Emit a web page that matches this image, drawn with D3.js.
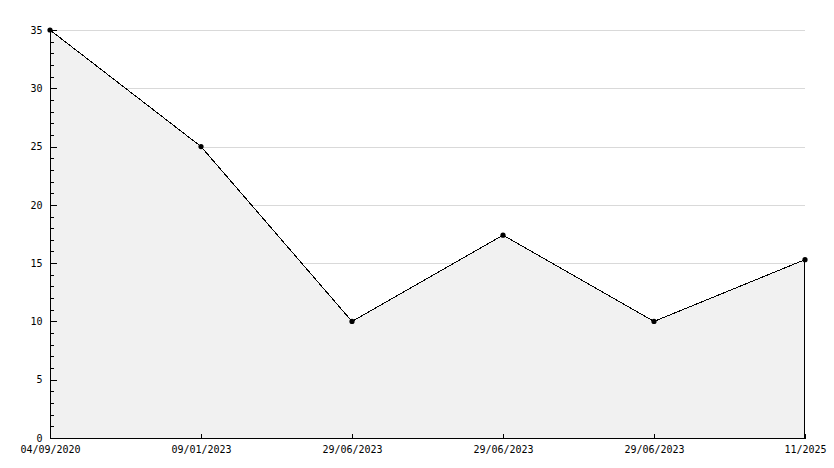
<!DOCTYPE html>
<html><head><meta charset="utf-8">
<script src="https://cdn.jsdelivr.net/npm/d3@7"></script>
<style>
body{margin:0;background:#fff;}
svg text{font-family:"DejaVu Sans Mono",monospace;font-size:10px;fill:#000;}
</style></head>
<body><svg id="c" width="834" height="468"></svg>
<script>
const categories = ["04/09/2020","09/01/2023","29/06/2023","29/06/2023","29/06/2023","11/2025"];
const values = [35, 25, 10, 17.4, 10, 15.3];
const yTicks = [0,5,10,15,20,25,30,35];

const svg = d3.select("#c");
const W = 834, H = 468;
const m = {l:50, r:29, t:30, b:30};
const x = d3.scalePoint().domain(d3.range(categories.length)).range([m.l, W - m.r]);
const y = d3.scaleLinear().domain([0,35]).range([H - m.b, m.t]);
const data = values.map((v,i)=>({i,v}));

// grid
svg.append("g").selectAll("line").data(yTicks.filter(d=>d>0)).join("line")
  .attr("x1", m.l).attr("x2", W - m.r)
  .attr("y1", d=>Math.round(y(d))+0.5).attr("y2", d=>Math.round(y(d))+0.5)
  .attr("stroke","#d9d9d9").attr("shape-rendering","crispEdges");

// area
svg.append("path").datum(data)
  .attr("d", d3.area().x(d=>x(d.i)).y0(y(0)).y1(d=>y(d.v)))
  .attr("fill","#f1f1f1");

// line
svg.append("path").datum(data)
  .attr("d", d3.line().x(d=>x(d.i)).y(d=>y(d.v)))
  .attr("fill","none").attr("stroke","#000").attr("stroke-width",1).attr("shape-rendering","crispEdges");

// right edge
const last = data[data.length-1];
svg.append("line").attr("x1", Math.round(x(last.i))-0.5).attr("x2", Math.round(x(last.i))-0.5)
  .attr("y1", y(last.v)).attr("y2", y(0)).attr("stroke","#000").attr("shape-rendering","crispEdges");

// y axis minor ticks
const minor = d3.range(0,36).filter(d=>d%5!==0);
svg.append("g").selectAll("line").data(minor).join("line")
  .attr("x1", m.l).attr("x2", m.l+4)
  .attr("y1", d=>Math.round(y(d))+0.5).attr("y2", d=>Math.round(y(d))+0.5)
  .attr("stroke","#000").attr("shape-rendering","crispEdges");

const yAxis = svg.append("g").attr("transform",`translate(${m.l+0.5},0)`)
  .call(d3.axisRight(y).tickValues(yTicks).tickSize(6).tickFormat(d3.format("d")));
yAxis.select(".domain").remove();
yAxis.selectAll("line").attr("shape-rendering","crispEdges");
yAxis.selectAll("text").attr("x",-8).attr("text-anchor","end").attr("font-family",null).attr("font-size",null);
svg.append("line").attr("x1",m.l+0.5).attr("x2",m.l+0.5).attr("y1",m.t).attr("y2",y(0))
  .attr("stroke","#000").attr("shape-rendering","crispEdges");

const xAxis = svg.append("g").attr("transform",`translate(0,${y(0)+0.5})`)
  .call(d3.axisTop(x).tickSize(5).tickFormat(i=>categories[i]));
xAxis.select(".domain").remove();
xAxis.selectAll("line").attr("shape-rendering","crispEdges");
xAxis.selectAll("text").attr("y",7).attr("dy","0.71em").attr("font-family",null).attr("font-size",null);
svg.append("line").attr("x1",m.l).attr("x2",x(last.i)).attr("y1",y(0)+0.5).attr("y2",y(0)+0.5)
  .attr("stroke","#000").attr("shape-rendering","crispEdges");

// markers
svg.append("g").selectAll("circle").data(data).join("circle")
  .attr("cx", d=>x(d.i)).attr("cy", d=>y(d.v)).attr("r",2.6).attr("fill","#000");
</script></body></html>
